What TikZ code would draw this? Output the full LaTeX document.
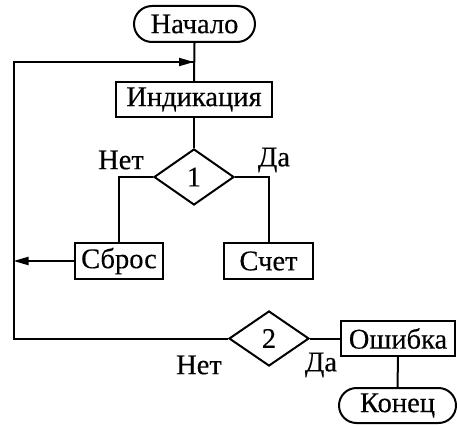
\documentclass[tikz,border=0pt]{standalone}
\usepackage{fontspec}
\newfontfamily\myserif[FakeBold=0.3]{Liberation Serif}
\usetikzlibrary{shapes.geometric,shapes.misc,arrows.meta}
\begin{document}
\begin{tikzpicture}[x=1pt,y=-1pt,
  every node/.style={font=\myserif\fontsize{28.5}{30}\selectfont, inner sep=0pt},
  box/.style={draw, rectangle, line width=2pt},
  term/.style={draw, rounded rectangle, line width=2pt},
  dec/.style={draw, diamond, line width=2pt, aspect=1.41},
  ln/.style={line width=2pt},
  arr/.style={line width=2pt, -{Triangle[length=15pt,width=8pt]}}
]
\useasboundingbox (0,0) rectangle (457,425);
\node[term, minimum width=121pt, minimum height=36pt] (start) at (194.5,24) {Начало};
\node[box, minimum width=156pt, minimum height=35pt] (ind) at (194,99.5) {Индикация};
\node[dec, minimum width=80pt, minimum height=56pt] (d1) at (194,177) {1};
\node[box, minimum width=88pt, minimum height=36pt] (reset) at (119,261) {Сброс};
\node[box, minimum width=89pt, minimum height=36pt] (count) at (268.5,261) {Счет};
\node[dec, minimum width=80pt, minimum height=55pt] (d2) at (269,338.5) {2};
\node[box, minimum width=114pt, minimum height=35pt] (err) at (398,338.5) {Ошибка};
\node[term, minimum width=117pt, minimum height=35pt] (end) at (397.5,405.5) {Конец};
\node (no1) at (121,160) {Нет};
\node (yes1) at (274,160) {Да};
\node (no2) at (199,365) {Нет};
\node (yes2) at (321,365) {Да};
\coordinate (J) at (194,62);
\coordinate (L1) at (13.5,62);
\coordinate (L2) at (13.5,338.5);
\coordinate (L3) at (13.5,261);
\draw[ln] (start.south) -- (ind.north);
\draw[ln] (ind.south) -- (d1.north);
\draw[ln] (d1.west) -| (reset.north);
\draw[ln] (d1.east) -| (count.north);
\draw[arr] (reset.west) -- (L3);
\draw[ln] (d2.west) -- (L2) -- (L1) -- (J);
\draw[arr] (L1) -- (J);
\draw[ln] (d2.east) -- (err.west);
\draw[ln] (err.south) -- (end.north);
\end{tikzpicture}
\end{document}
